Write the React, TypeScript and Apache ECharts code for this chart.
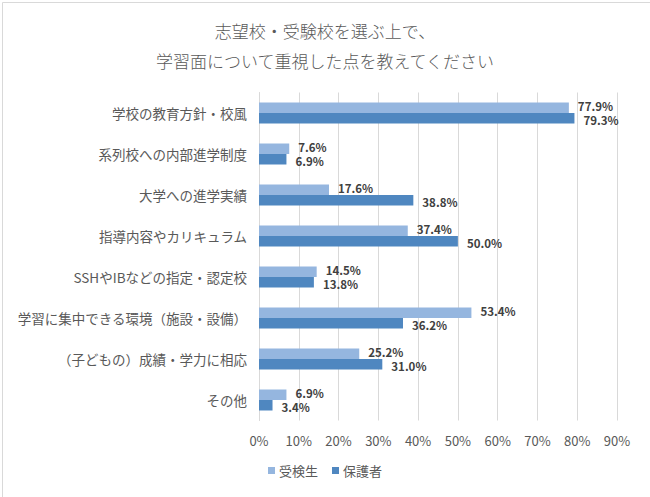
import React, { useEffect, useRef } from "react";
import * as echarts from "echarts";

const titleLines = ["志望校・受験校を選ぶ上で、", "学習面について重視した点を教えてください"];
const categories = [
  "学校の教育方針・校風",
  "系列校への内部進学制度",
  "大学への進学実績",
  "指導内容やカリキュラム",
  "SSHやIBなどの指定・認定校",
  "学習に集中できる環境（施設・設備）",
  "（子どもの）成績・学力に相応",
  "その他",
];
const seriesNames = ["受検生", "保護者"];
const students = [77.9, 7.6, 17.6, 37.4, 14.5, 53.4, 25.2, 6.9];
const parents = [79.3, 6.9, 38.8, 50.0, 13.8, 36.2, 31.0, 3.4];
const colors = ["#95b6df", "#4f87c0"];

const FONT = "'Noto Sans CJK JP', 'Noto Sans', sans-serif";

export default function App() {
  const ref = useRef<HTMLDivElement>(null);
  useEffect(() => {
    if (!ref.current) return;
    const chart = echarts.init(ref.current, null, { renderer: "svg" });
    const makeLabel = (dy: number) => ({
      show: true,
      position: "right",
      distance: 9,
      offset: [0, dy],
      formatter: (p: any) => p.value.toFixed(1) + "%",
      fontFamily: FONT,
      fontSize: 11.5,
      lineHeight: 11.5,
      fontWeight: "bold",
      color: "#404040",
    });
    chart.setOption({
      animation: false,
      backgroundColor: "#ffffff",
      textStyle: { fontFamily: FONT },
      title: {
        text: titleLines.join("\n"),
        left: "center",
        top: 10,
        textStyle: {
          fontFamily: FONT,
          fontSize: 17,
          fontWeight: 300,
          color: "#595959",
          lineHeight: 30,
        },
      },
      legend: {
        data: seriesNames,
        bottom: 15,
        left: "center",
        itemWidth: 7,
        itemHeight: 7,
        itemGap: 14,
        icon: "rect",
        textStyle: { fontFamily: FONT, fontSize: 13, color: "#595959", padding: [0, 0, 0, -1] },
      },
      grid: { left: 259, right: 33, top: 92.5, bottom: 76.5, containLabel: false },
      xAxis: {
        type: "value",
        min: 0,
        max: 90,
        interval: 10,
        axisLabel: {
          formatter: "{value}%",
          color: "#595959",
          fontSize: 13,
          fontFamily: FONT,
          margin: 13,
        },
        axisLine: { show: false },
        axisTick: { show: false },
        splitLine: { lineStyle: { color: "#d9d9d9", width: 1 } },
      },
      yAxis: {
        type: "category",
        data: categories,
        inverse: true,
        axisLine: { show: true, lineStyle: { color: "#d9d9d9" } },
        axisTick: { show: false },
        axisLabel: { color: "#595959", fontSize: 13.5, fontFamily: FONT, margin: 12 },
      },
      series: [
        {
          name: seriesNames[0],
          type: "bar",
          data: students,
          barWidth: 10.5,
          barGap: "0%",
          itemStyle: { color: colors[0] },
          label: makeLabel(-1.5),
        },
        {
          name: seriesNames[1],
          type: "bar",
          data: parents,
          barWidth: 10.5,
          barGap: "0%",
          itemStyle: { color: colors[1] },
          label: makeLabel(2),
        },
      ],
      graphic: [
        {
          type: "rect",
          left: 0,
          top: 0,
          shape: { x: 0.5, y: 0.5, width: 649, height: 496 },
          style: { fill: "none", stroke: "#d9d9d9", lineWidth: 1 },
          silent: true,
        },
      ],
    });
    return () => chart.dispose();
  }, []);
  return (
    <div
      ref={ref}
      style={{ width: 650, height: 497, position: "absolute", left: 0, top: 0 }}
    />
  );
}
